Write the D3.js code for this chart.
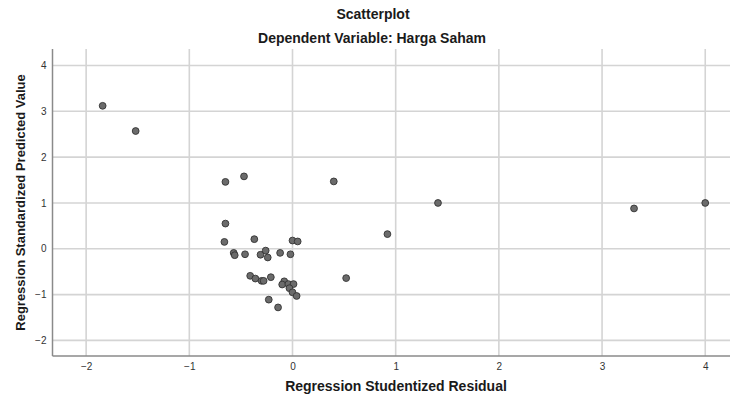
<!DOCTYPE html>
<html>
<head>
<meta charset="utf-8">
<script src="https://cdn.jsdelivr.net/npm/d3@7"></script>
<style>
  body { margin: 0; background: #fff; }
  text { font-family: "Liberation Sans", Arial, sans-serif; }
</style>
</head>
<body>
<svg id="chart" width="730" height="398"></svg>
<script>
// residuals (x) and predicted values (y)
const residual = [
  -1.84, -1.52, -0.65, -0.47, 0.40, 1.41, 3.31, 4.00, 0.92, 0.52,
  -0.65, -0.66, -0.37, 0.00, 0.05,
  -0.57, -0.56, -0.46, -0.31, -0.26, -0.24, -0.12, -0.02,
  -0.41, -0.36, -0.30, -0.28, -0.21, -0.08, -0.10, -0.04, 0.01,
  -0.03, 0.00, 0.04, -0.23, -0.14
];
const predicted = [
  3.12, 2.57, 1.46, 1.58, 1.47, 1.00, 0.88, 1.00, 0.32, -0.64,
  0.55, 0.15, 0.21, 0.18, 0.16,
  -0.09, -0.14, -0.12, -0.13, -0.04, -0.19, -0.09, -0.12,
  -0.59, -0.65, -0.70, -0.70, -0.62, -0.71, -0.78, -0.77, -0.77,
  -0.86, -0.95, -1.03, -1.11, -1.28
];
const xTicks = [-2, -1, 0, 1, 2, 3, 4];
const yTicks = [-2, -1, 0, 1, 2, 3, 4];

const svg = d3.select('#chart');
const plot = { left: 52.5, right: 730, top: 49, bottom: 356 };

const x = d3.scaleLinear().domain([-2.326, 4.24]).range([plot.left, plot.right]);
const y = d3.scaleLinear().domain([-2.34, 4.36]).range([plot.bottom, plot.top]);

// grid lines
svg.append('g').selectAll('line.vgrid')
    .data(xTicks)
    .join('line')
    .attr('class', 'vgrid')
    .attr('x1', d => x(d)).attr('x2', d => x(d))
    .attr('y1', plot.top).attr('y2', plot.bottom)
    .attr('stroke', '#d4d4d4')
    .attr('stroke-width', 1.6);

svg.append('g').selectAll('line.hgrid')
    .data(yTicks)
    .join('line')
    .attr('class', 'hgrid')
    .attr('x1', plot.left).attr('x2', plot.right)
    .attr('y1', d => y(d)).attr('y2', d => y(d))
    .attr('stroke', '#d4d4d4')
    .attr('stroke-width', 1.6);

// axes
const xAxis = svg.append('g')
    .attr('transform', `translate(0,${plot.bottom})`)
    .call(d3.axisBottom(x).tickValues(xTicks).tickSize(0).tickPadding(7).tickFormat(d3.format('d')));
const yAxis = svg.append('g')
    .attr('transform', `translate(${plot.left},0)`)
    .call(d3.axisLeft(y).tickValues(yTicks).tickSize(0).tickPadding(6).tickFormat(d3.format('d')));

[xAxis, yAxis].forEach(a => {
    a.select('.domain').attr('stroke', '#8a8a8a').attr('stroke-width', 1.5);
    a.selectAll('text')
        .style('font-family', '"Liberation Sans", Arial, sans-serif')
        .style('font-size', '10px')
        .attr('fill', '#333');
});
// extend domain lines to full plot
xAxis.select('.domain').attr('d', `M${plot.left},0H${plot.right}`);
yAxis.select('.domain').attr('d', `M0,${plot.top}V${plot.bottom}`);

// points
svg.append('g').selectAll('circle')
    .data(residual.map((r, i) => [r, predicted[i]]))
    .join('circle')
    .attr('cx', d => x(d[0]))
    .attr('cy', d => y(d[1]))
    .attr('r', 3.4)
    .attr('fill', '#6b6b6b')
    .attr('stroke', '#333')
    .attr('stroke-width', 0.9);

// titles
svg.append('text')
    .attr('x', 373).attr('y', 19)
    .attr('text-anchor', 'middle')
    .style('font-size', '14px').style('font-weight', 'bold')
    .attr('fill', '#1a1a1a')
    .text('Scatterplot');

svg.append('text')
    .attr('x', 372).attr('y', 43)
    .attr('text-anchor', 'middle')
    .style('font-size', '14px').style('font-weight', 'bold')
    .attr('fill', '#1a1a1a')
    .text('Dependent Variable: Harga Saham');

svg.append('text')
    .attr('x', 396).attr('y', 391)
    .attr('text-anchor', 'middle')
    .style('font-size', '14px').style('font-weight', 'bold')
    .attr('fill', '#1a1a1a')
    .text('Regression Studentized Residual');

svg.append('text')
    .attr('transform', `translate(25,${(plot.top + plot.bottom) / 2}) rotate(-90)`)
    .attr('text-anchor', 'middle')
    .style('font-size', '13px').style('font-weight', 'bold')
    .attr('fill', '#1a1a1a')
    .text('Regression Standardized Predicted Value');
</script>
</body>
</html>
